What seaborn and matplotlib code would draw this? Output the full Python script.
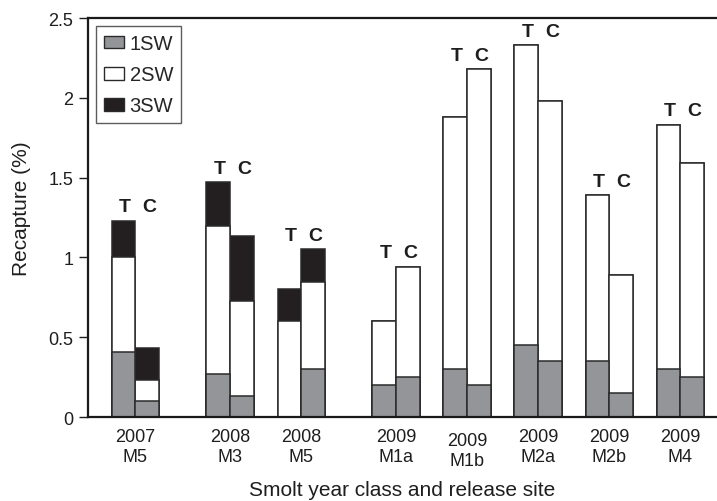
import matplotlib
matplotlib.use("Agg")
import matplotlib.pyplot as plt
from matplotlib.patches import Patch
from matplotlib.transforms import ScaledTranslation
import numpy as np
import pandas as pd
import seaborn as sns

# data (recapture, %)
groups = ["2007\nM5", "2008\nM3", "2008\nM5", "2009\nM1a", "2009\nM1b",
          "2009\nM2a", "2009\nM2b", "2009\nM4"]
# cumulative tops of each segment, T (treated) and C (control)
sw1_T = [0.41, 0.27, 0.00, 0.20, 0.30, 0.45, 0.35, 0.30]
sw1_C = [0.10, 0.13, 0.30, 0.25, 0.20, 0.35, 0.15, 0.25]
sw2_T = [1.00, 1.20, 0.60, 0.60, 1.88, 2.33, 1.39, 1.83]
sw2_C = [0.235, 0.73, 0.845, 0.94, 2.18, 1.98, 0.89, 1.59]
sw3_T = [1.23, 1.47, 0.80, 0.60, 1.88, 2.33, 1.39, 1.83]
sw3_C = [0.43, 1.135, 1.05, 0.94, 2.18, 1.98, 0.89, 1.59]

# layout: group centres in bar-width units (extra gaps after 2007 and 2008 M5)
group_pos = np.array([0, 4, 7, 11, 14, 17, 20, 23])

GREY = "#939598"
BLACK = "#231f20"
EDGE = "#2a2a2a"
TXT = "#1e1e1e"
TICK_FS = 13
LAB_FS = 15
LEG_FS = 14.5

sns.set_theme(style="ticks")
plt.rcParams["font.family"] = ["Liberation Sans", "DejaVu Sans"]
plt.rcParams["font.size"] = TICK_FS

df = pd.DataFrame({
    "pos": np.concatenate([group_pos - 0.5, group_pos + 0.5]),
    "sw1": sw1_T + sw1_C,
    "sw2": sw2_T + sw2_C,
    "sw3": sw3_T + sw3_C,
})

fig = plt.figure(figsize=(7.17, 5.02), dpi=100)
ax = fig.add_axes([0.1227, 0.1673, 0.8773, 0.7948])

# overplot from tallest to shortest to get stacked bars
for col, colour in [("sw3", BLACK), ("sw2", "white"), ("sw1", GREY)]:
    sns.barplot(data=df, x="pos", y=col, native_scale=True, width=1,
                color=colour, saturation=1, edgecolor=EDGE, linewidth=1.1,
                errorbar=None, ax=ax)

# T / C labels above each pair
for i, p in enumerate(group_pos):
    top = max(sw3_T[i], sw3_C[i]) + 0.035
    ax.text(p - 0.45, top, "T", ha="center", va="bottom",
            fontweight="bold", fontsize=14, color=TXT)
    ax.text(p + 0.6, top, "C", ha="center", va="bottom",
            fontweight="bold", fontsize=14, color=TXT)

ax.set_xlim(-2.0, 24.55)
ax.set_ylim(0, 2.5)
ax.set_yticks([0, 0.5, 1, 1.5, 2, 2.5])
ax.set_yticklabels(["0", "0.5", "1", "1.5", "2", "2.5"])
ax.set_xticks(group_pos)
ax.set_xticklabels(groups, linespacing=1.2)
ax.tick_params(axis="x", length=0, pad=8, labelsize=TICK_FS, colors=TXT)
ax.tick_params(axis="y", length=6.5, width=1, direction="out", pad=4,
               labelsize=TICK_FS, colors=TXT)
# M1b label sits a bit lower in the original
lab = ax.get_xticklabels()[4]
lab.set_transform(lab.get_transform() + ScaledTranslation(0, -3 / 72, fig.dpi_scale_trans))

ax.set_xlabel("Smolt year class and release site", fontsize=LAB_FS, color=TXT)
ax.set_ylabel("Recapture (%)", fontsize=LAB_FS, color=TXT)
ax.xaxis.set_label_coords(0.5, -0.158)
ax.yaxis.set_label_coords(-0.09, 0.524)

for s in ["left", "bottom", "top"]:
    ax.spines[s].set_linewidth(1.6)
    ax.spines[s].set_color("#1a1a1a")
ax.spines["right"].set_visible(False)

handles = [Patch(facecolor=GREY, edgecolor=EDGE, label="1SW"),
           Patch(facecolor="white", edgecolor=EDGE, label="2SW"),
           Patch(facecolor=BLACK, edgecolor=EDGE, label="3SW")]
leg = ax.legend(handles=handles, loc="upper left", bbox_to_anchor=(0.0, 1.0),
                fontsize=LEG_FS, frameon=True, fancybox=False, edgecolor="#333333",
                handlelength=1.0, handleheight=0.6, handletextpad=0.27,
                labelspacing=0.6, borderpad=0.38, borderaxespad=0.42)
leg.get_frame().set_linewidth(1.0)

fig.savefig("out.png", dpi=100)
